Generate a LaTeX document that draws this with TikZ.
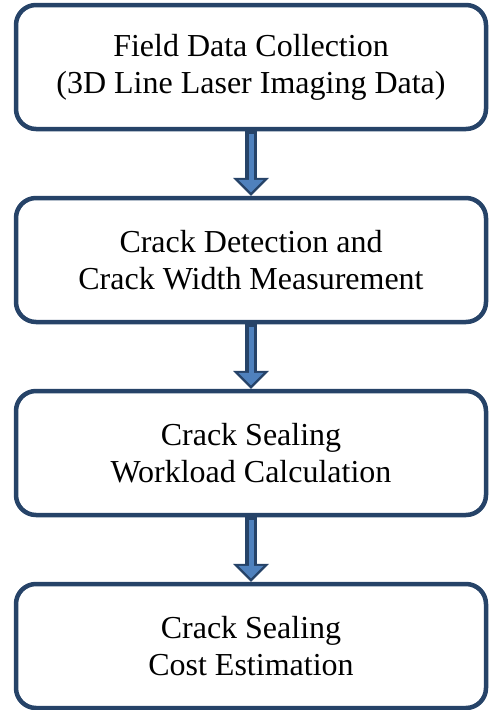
\documentclass[tikz,border=0pt]{standalone}
\usepackage{fontspec}
\setmainfont{Liberation Serif}
\usetikzlibrary{arrows.meta,positioning}

\definecolor{boxline}{HTML}{264368}
\definecolor{arrowfill}{HTML}{4F81BD}

\tikzset{
  stagebox/.style={draw=boxline, line width=4.5pt, rounded corners=20pt,
    minimum width=470pt, minimum height=124pt, align=center,
    font=\fontsize{32}{37}\selectfont},
  flow/.style={draw=boxline, line width=12pt,
    -{Triangle[width=36pt,length=18pt,line width=0pt]},
    postaction={draw=arrowfill, line width=5pt, shorten <=3pt,
      -{Triangle[width=25pt,length=12.5pt,line width=0pt]}, shorten >=3.5pt}}
}

\begin{document}
\begin{tikzpicture}[x=1pt,y=1pt]
  \useasboundingbox (0,0) rectangle (488,-710);

  % process stages
  \node[stagebox] (collect) at (251,-67) {Field Data Collection\\(3D Line Laser Imaging Data)};
  \node[stagebox, below=64.5pt of collect] (detect) {Crack Detection and\\Crack Width Measurement};
  \node[stagebox, below=64.5pt of detect] (workload) {Crack Sealing\\Workload Calculation};
  \node[stagebox, below=64.5pt of workload] (cost) {Crack Sealing\\Cost Estimation};

  % block arrows between stages
  \draw[flow] (collect.south) -- (detect.north);
  \draw[flow] (detect.south) -- (workload.north);
  \draw[flow] (workload.south) -- (cost.north);
\end{tikzpicture}
\end{document}
